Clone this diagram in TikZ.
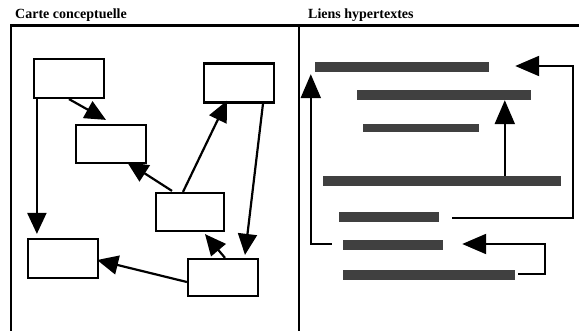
\documentclass[tikz,border=0pt]{standalone}
\usepackage{fontspec}
\setmainfont{Liberation Serif}
\usetikzlibrary{arrows.meta,calc}
\definecolor{barcol}{HTML}{404040}
\begin{document}
\begin{tikzpicture}[x=1pt,y=-1pt,
  frame/.style={line width=2.2pt},
  concept/.style={draw, line width=2.2pt, inner sep=0pt, minimum width=70pt, minimum height=39pt},
  bar/.style={fill=barcol, draw=none, inner sep=0pt, minimum height=10pt},
  link/.style={line width=2.2pt, -{Triangle[length=21pt,width=19pt]}},
  hlink/.style={line width=2.2pt, -{Triangle[length=24pt,width=20pt]}},
  title/.style={anchor=base west, inner sep=0pt, font=\fontsize{14}{16}\selectfont\bfseries}]
\useasboundingbox (0,0) rectangle (579,331);

% panel titles
\node[title] (t1) at (15,19) {Carte conceptuelle};
\node[title] (t2) at (308,19) {Liens hypertextes};

% panel frames (open at the bottom and on the right)
\draw[frame] (11,331) -- (11,25.5) -- (579,25.5);
\draw[frame] (299,25.5) -- (299,331);

% concept map boxes
\node[concept] (A) at (69,78.5) {};
\node[concept] (B) at (239,83) {};
\node[concept, minimum height=38pt] (C) at (111,144) {};
\node[concept, minimum width=68pt, minimum height=38pt] (D) at (190,212) {};
\node[concept] (E) at (63,258.5) {};
\node[concept, minimum height=37pt] (F) at (223,277.5) {};

% concept map links
\draw[link] (A.south) -- ($(C.north)+(-5,-4)$);
\draw[link] ($(A.south west)+(4,0)$) -- ($(E.north west)+(10,-4)$);
\draw[link] ($(D.north)+(-7,0)$) -- ($(B.south)+(-12,-3)$);
\draw[link] ($(B.south)+(24,0)$) -- ($(F.north)+(22,-3)$);
\draw[link] ($(D.north)+(-18,-1)$) -- ($(C.south east)+(-20,-2)$);
\draw[link] ($(F.north)+(2,0)$) -- ($(D.south)+(15,2)$);
\draw[link] ($(F.west)+(0,4.5)$) -- ($(E.east)+(-2,1.5)$);

% text lines of the hypertext page
\node[bar, minimum width=174pt] (h1) at (402,67) {};
\node[bar, minimum width=174pt] (h2) at (444,95) {};
\node[bar, minimum width=116pt, minimum height=8pt] (h3) at (421,128) {};
\node[bar, minimum width=238pt] (h4) at (442,181) {};
\node[bar, minimum width=100pt] (h5) at (389,217) {};
\node[bar, minimum width=100pt] (h6) at (393,245) {};
\node[bar, minimum width=172pt] (h7) at (429,275) {};

% hypertext links
\coordinate (s6) at ($(h6.west)+(-11,-1)$);
\draw[hlink] (s6) -| ($(h1.south west)+(-4,2)$);
\coordinate (s4) at ($(h4.north west)+(182,0)$);
\draw[hlink] (s4) -- (s4 |- h2.south);
\coordinate (s5) at ($(h5.east)+(13,1)$);
\coordinate (r5) at (573,218);
\draw[hlink] (s5) -- (r5) |- ($(h1.east)+(26,-1)$);
\coordinate (s7) at ($(h7.east)+(3,-1)$);
\coordinate (r7) at (545,274);
\draw[hlink] (s7) -- (r7) |- ($(h6.east)+(19,-1)$);
\end{tikzpicture}
\end{document}
